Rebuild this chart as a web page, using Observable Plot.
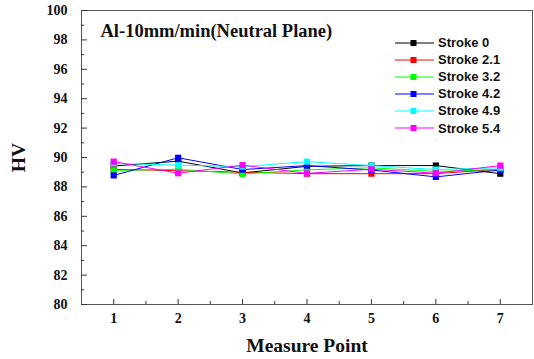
<!DOCTYPE html>
<html><head><meta charset="utf-8">
<script src="https://cdn.jsdelivr.net/npm/d3@7"></script>
<script src="https://cdn.jsdelivr.net/npm/@observablehq/plot@0.6"></script>
<style>
body{margin:0;background:#fff;}
#wrap{position:relative;width:534px;height:359px;}
#wrap svg text{font-family:"Liberation Serif","Times New Roman",serif;font-weight:bold;}
#legend{position:absolute;left:395px;top:34px;font-family:"Liberation Sans",Arial,sans-serif;font-weight:bold;font-size:13px;color:#111;}
#legend .row{display:flex;align-items:center;height:17.1px;}
#legend svg{margin-right:4px;}
</style></head>
<body><div id="wrap"><div id="legend"></div></div>
<script>
const points = [1, 2, 3, 4, 5, 6, 7];
const seriesNames = ["Stroke 0", "Stroke 2.1", "Stroke 3.2", "Stroke 4.2", "Stroke 4.9", "Stroke 5.4"];
const seriesColors = ["#000000", "#ff0000", "#00ff00", "#0000ff", "#00ffff", "#ff00ff"];
const stroke0  = [89.42, 89.75, 88.95, 89.40, 89.45, 89.45, 88.90];
const stroke21 = [89.20, 89.10, 89.00, 88.90, 88.90, 88.90, 89.20];
const stroke32 = [89.12, 89.20, 88.88, 89.16, 89.30, 89.05, 89.20];
const stroke42 = [88.78, 89.98, 89.18, 89.45, 89.15, 88.68, 89.15];
const stroke49 = [89.60, 89.48, 89.38, 89.72, 89.45, 89.18, 89.30];
const stroke54 = [89.72, 88.93, 89.48, 88.92, 89.20, 88.93, 89.45];
const yTicks = [80, 82, 84, 86, 88, 90, 92, 94, 96, 98, 100];
const yMinor = [81, 83, 85, 87, 89, 91, 93, 95, 97, 99];
const xMinor = [1.5, 2.5, 3.5, 4.5, 5.5, 6.5];
const title = "Al-10mm/min(Neutral Plane)";

const allSeries = [stroke0, stroke21, stroke32, stroke42, stroke49, stroke54];
const rows = [];
allSeries.forEach((vals, si) => vals.forEach((v, i) => rows.push({x: points[i], y: v, s: seriesNames[si]})));

const serif = "'Liberation Serif','Times New Roman',serif";
const chart = Plot.plot({
  width: 534, height: 359,
  marginLeft: 81, marginRight: 2, marginTop: 10, marginBottom: 55,
  style: {fontFamily: serif, fontWeight: "bold", fontSize: "14px", color: "#111", background: "#fff"},
  x: {domain: [0.5, 7.5]},
  y: {domain: [80, 100]},
  color: {domain: seriesNames, range: seriesColors},
  marks: [
    Plot.frame({stroke: "#555", strokeWidth: 1}),
    Plot.axisY(yTicks, {tickSize: 0, tickPadding: 14, fontSize: 14, label: "HV", labelAnchor: "center", labelOffset: 70, labelArrow: "none"}),
    Plot.axisY(yTicks, {tickSize: -6, text: null, label: null, stroke: "#333"}),
    Plot.axisY(yMinor, {tickSize: -3, text: null, label: null, stroke: "#333"}),
    Plot.axisX(points, {tickSize: 0, tickPadding: 9, fontSize: 14, label: "Measure Point", labelAnchor: "center", labelOffset: 47, labelArrow: "none"}),
    Plot.axisX(points, {tickSize: -5, text: null, label: null, stroke: "#333"}),
    Plot.axisX(xMinor, {tickSize: -3, text: null, label: null, stroke: "#333"}),
    Plot.line(rows, {x: "x", y: "y", z: "s", stroke: "s", strokeWidth: 1}),
    Plot.dot(rows, {x: "x", y: "y", fill: "s", symbol: "square", r: 3.5}),
    Plot.text([title], {text: d => d, frameAnchor: "top-left", dx: 19, dy: 13, fontSize: 18.5, textAnchor: "start", lineAnchor: "top"})
  ]
});
chart.setAttribute("font-family", serif);
chart.querySelectorAll("g[aria-label='y-axis label'] text, g[aria-label='x-axis label'] text").forEach(t => t.setAttribute("font-size", "19.5"));
document.getElementById("wrap").prepend(chart);

const legend = document.getElementById("legend");
seriesNames.forEach((name, i) => {
  const row = document.createElement("div");
  row.className = "row";
  const c = seriesColors[i];
  row.innerHTML = `<svg width="39" height="10"><line x1="0" x2="39" y1="5" y2="5" stroke="${c}" stroke-width="1"/><rect x="15.5" y="2" width="6" height="6" fill="${c}"/></svg><span>${name}</span>`;
  legend.appendChild(row);
});
</script></body></html>
